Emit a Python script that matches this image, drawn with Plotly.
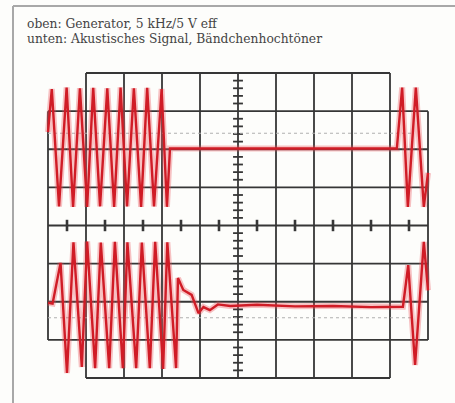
import plotly.graph_objects as go

# ---------------- data (screen divisions) ----------------
# upper trace: generator, 5 kHz burst (x in divisions, y in divisions)
top_t = [0.0, 0.10, 0.29, 0.49, 0.66, 0.84, 1.03, 1.19, 1.37, 1.56, 1.74, 1.91,
         2.08, 2.26, 2.45, 2.61, 2.79, 2.99, 3.13, 3.21, 9.18, 9.32, 9.47, 9.68,
         9.89, 10.0]
top_v = [2.45, 3.58, 0.50, 3.62, 0.49, 3.60, 0.49, 3.61, 0.50, 3.60, 0.49, 3.62,
         0.50, 3.60, 0.49, 3.61, 0.50, 3.58, 0.49, 2.02, 2.02, 3.62, 0.49, 3.62,
         0.49, 1.38]

# lower trace: acoustic signal of the ribbon tweeter
bot_t = [0.0, 0.12, 0.33, 0.50, 0.67, 0.89, 1.03, 1.24, 1.39, 1.61, 1.76, 1.97,
         2.09, 2.32, 2.47, 2.68, 2.82, 3.03, 3.14, 3.37, 3.42, 3.56, 3.78, 3.96,
         4.09, 4.26, 4.47, 4.8, 5.5, 6.5, 7.5, 8.5, 9.34, 9.48, 9.66, 9.89, 10.0]
bot_v = [-2.03, -2.05, -0.98, -3.87, -0.44, -3.71, -0.42, -3.74, -0.45, -3.74,
         -0.43, -3.74, -0.44, -3.74, -0.45, -3.74, -0.43, -3.76, -0.44, -3.74,
         -1.38, -1.69, -1.82, -2.30, -2.14, -2.22, -2.07, -2.11, -2.08, -2.12,
         -2.11, -2.14, -2.13, -1.04, -3.66, -0.43, -1.70]

title_lines = ["oben: Generator, 5 kHz/5 V eff",
               "unten: Akustisches Signal, Bändchenhochtöner"]

# ---------------- layout helpers ----------------
W, H = 455, 403
X0, PXX = 48.0, 38.0          # pixel of x=0 div, px per div
YC, PXY = 225.5, 38.125       # pixel of y=0 div, px per div
xr = [-X0 / PXX, (W - X0) / PXX]
yr = [(YC - H) / PXY, YC / PXY]

GRID = dict(color="#363636", width=1.8)
shapes = []
def seg(x0, y0, x1, y1, line):
    shapes.append(dict(type="line", xref="x", yref="y", x0=x0, y0=y0, x1=x1, y1=y1,
                       line=line, layer="below"))

for i in range(1, 10):
    seg(i, -4, i, 4, GRID)
for j in (-4, 4):
    seg(1, j, 9, j, GRID)
for j in range(-3, 4):
    seg(0, j, 10, j, GRID)
for i in (0, 10):
    seg(i, -3, i, 3, GRID)

# centre-line minor ticks
TICK = dict(color="#363636", width=1.8)
k = -20
while k <= 20:
    y = k * 0.2
    if k % 5 != 0:
        seg(5 - 0.13, y, 5 + 0.13, y, TICK)
    k += 1
for i in range(10):
    seg(i + 0.5, -0.15, i + 0.5, 0.15, dict(color="#363636", width=2.6))

# dotted reference lines
DOT = dict(color="#b0b0b0", width=1.2, dash="dot")
seg(0, 2.42, 9.6, 2.42, DOT)
seg(0, -2.42, 9.6, -2.42, DOT)

# outer frame of the scanned page
FRAME = dict(color="#a8a8a8", width=2)
shapes.append(dict(type="line", xref="paper", yref="paper", x0=13 / W, x1=13 / W,
                   y0=0, y1=1 - 6 / H, line=FRAME))
shapes.append(dict(type="line", xref="paper", yref="paper", x0=13 / W, x1=1,
                   y0=1 - 6 / H, y1=1 - 6 / H, line=FRAME))

fig = go.Figure()
for t, v in ((top_t, top_v), (bot_t, bot_v)):
    fig.add_trace(go.Scatter(x=t, y=v, mode="lines", hoverinfo="skip",
                             line=dict(color="rgba(235,80,90,0.35)", width=6)))
    fig.add_trace(go.Scatter(x=t, y=v, mode="lines", hoverinfo="skip",
                             line=dict(color="rgb(208,28,38)", width=2.4)))

annotations = []
for n, txt in enumerate(title_lines):
    annotations.append(dict(text=txt, xref="paper", yref="paper", x=26 / W,
                            y=1 - (24.5 + n * 14.5) / H, xanchor="left", yanchor="middle",
                            showarrow=False, borderpad=0,
                            font=dict(family="DejaVu Serif", size=12.3, color="#444444")))

fig.update_layout(
    width=W, height=H, margin=dict(l=0, r=0, t=0, b=0),
    paper_bgcolor="#fdfdfb", plot_bgcolor="rgba(0,0,0,0)",
    showlegend=False, shapes=shapes, annotations=annotations,
    xaxis=dict(range=xr, visible=False, fixedrange=True),
    yaxis=dict(range=yr, visible=False, fixedrange=True),
)
fig.write_html("out.html")
